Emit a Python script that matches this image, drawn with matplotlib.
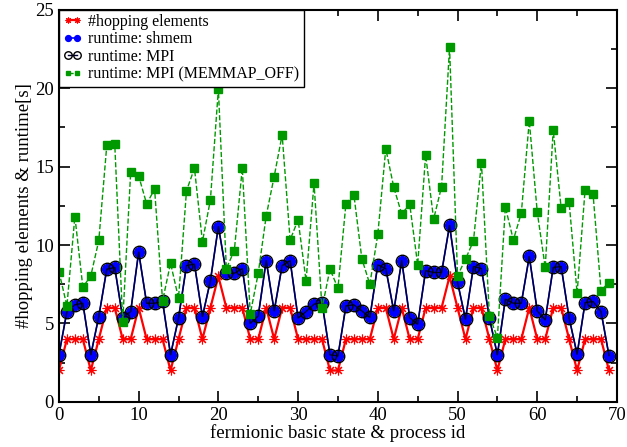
import matplotlib
matplotlib.use("Agg")
import matplotlib.pyplot as plt
from matplotlib.ticker import MultipleLocator

plt.rcParams['font.family'] = ['Liberation Serif', 'DejaVu Serif']
plt.rcParams['mathtext.fontset'] = 'stix'

ids = list(range(70))

hopping = [2, 4, 4, 4, 2, 4, 6, 6, 4, 4, 6, 4, 4, 4, 2, 4, 6, 6, 4, 6,
           8, 6, 6, 6, 4, 4, 6, 4, 6, 6, 4, 4, 4, 4, 2, 2, 4, 4, 4, 4,
           6, 6, 4, 6, 4, 4, 6, 6, 6, 8, 6, 4, 6, 6, 4, 2, 4, 4, 4, 6,
           4, 4, 6, 6, 4, 2, 4, 4, 4, 2]

shmem = [3.0, 5.76, 6.19, 6.29, 3.0, 5.44, 8.46, 8.57, 5.34, 5.76,
         9.55, 6.29, 6.29, 6.4, 3.0, 5.34, 8.69, 8.78, 5.44, 7.72,
         11.18, 8.2, 8.2, 8.5, 5.0, 5.48, 9.01, 5.8, 8.69, 9.01,
         5.34, 5.76, 6.23, 6.33, 3.0, 2.93, 6.12, 6.19, 5.8, 5.38,
         8.74, 8.5, 5.8, 9.01, 5.37, 4.95, 8.37, 8.25, 8.25, 11.25,
         7.63, 5.27, 8.63, 8.5, 5.34, 3.0, 6.55, 6.29, 6.29, 9.27,
         5.8, 5.23, 8.57, 8.63, 5.34, 3.04, 6.33, 6.4, 5.76, 2.95]

mpi = [3.0, 5.76, 6.19, 6.29, 3.0, 5.44, 8.46, 8.57, 5.34, 5.76,
       9.55, 6.29, 6.29, 6.4, 3.0, 5.34, 8.69, 8.78, 5.44, 7.72,
       11.18, 8.2, 8.2, 8.5, 5.0, 5.48, 9.01, 5.8, 8.69, 9.01,
       5.34, 5.76, 6.23, 6.33, 3.0, 2.93, 6.12, 6.19, 5.8, 5.38,
       8.74, 8.5, 5.8, 9.01, 5.37, 4.95, 8.37, 8.25, 8.25, 11.25,
       7.63, 5.27, 8.63, 8.5, 5.34, 3.0, 6.55, 6.29, 6.29, 9.27,
       5.8, 5.23, 8.57, 8.63, 5.34, 3.04, 6.33, 6.4, 5.76, 2.95]

memmap_off = [8.31, 6.12, 11.82, 7.31, 8.04, 10.29, 16.35, 16.45, 5.12, 14.65,
              14.41, 12.63, 13.56, 6.44, 8.84, 6.61, 13.46, 14.9, 10.22, 12.88,
              19.94, 8.5, 9.65, 14.9, 5.6, 8.2, 11.86, 14.37, 17.03, 10.33,
              11.61, 7.72, 13.95, 5.97, 8.46, 7.25, 12.63, 13.2, 9.12, 7.5,
              10.69, 16.14, 13.69, 11.97, 12.62, 8.74, 15.75, 11.65, 13.73, 22.62,
              8.04, 9.1, 10.27, 15.26, 5.48, 4.1, 12.42, 10.33, 12.03, 17.92,
              12.1, 8.57, 17.35, 12.35, 12.73, 6.93, 13.52, 13.25, 7.1, 7.61]

fig = plt.figure(figsize=(6.27, 4.47), dpi=100)
ax = fig.add_axes([0.094, 0.101, 0.890, 0.877])

ax.plot(ids, hopping, color='#ff0000', marker=(8, 2, 0), markersize=7,
        markeredgewidth=0.8, lw=1.6, label='#hopping elements')
ax.plot(ids, shmem, color='#0000ff', marker='o', markersize=7, lw=1.2,
        markeredgecolor='#0000ff', label='runtime: shmem')
ax.plot(ids, mpi, color='#000033', marker='o', markersize=9, lw=1.0,
        markerfacecolor='none', markeredgecolor='black', markeredgewidth=1.0,
        label='runtime: MPI')
ax.plot(ids, memmap_off, color='#009900', marker='s', markersize=5.5, lw=1.0,
        ls='--', label='runtime: MPI (MEMMAP_OFF)')

ax.set_xlim(0, 70)
ax.set_ylim(0, 25)
ax.xaxis.set_major_locator(MultipleLocator(10))
ax.xaxis.set_minor_locator(MultipleLocator(5))
ax.yaxis.set_major_locator(MultipleLocator(5))
ax.yaxis.set_minor_locator(MultipleLocator(2.5))
ax.tick_params(which='both', direction='in', top=True, right=True,
               labelsize=13.5, width=1.2)
ax.tick_params(which='major', length=8)
ax.tick_params(which='minor', length=4)
for s in ax.spines.values():
    s.set_linewidth(1.5)

ax.set_xlabel('fermionic basic state & process id', fontsize=13.5, labelpad=0)
ax.set_ylabel('#hopping elements & runtime[s]', fontsize=13.5, labelpad=2)

leg = ax.legend(loc='upper left', fontsize=11.5, numpoints=2,
                handlelength=1.2, handletextpad=0.4, borderpad=0.25,
                labelspacing=0.1, borderaxespad=0.0, fancybox=False,
                framealpha=1, markerscale=0.6)
leg.get_frame().set_edgecolor('black')
leg.get_frame().set_linewidth(1.0)

fig.savefig('out.png', dpi=100)
